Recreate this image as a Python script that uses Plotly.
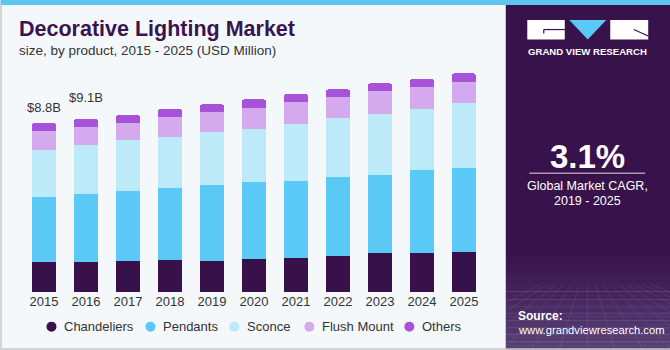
import plotly.graph_objects as go

# ---------------- data (USD Million) ----------------
years = ["2015", "2016", "2017", "2018", "2019", "2020", "2021", "2022", "2023", "2024", "2025"]
chandeliers = [1536, 1557, 1609, 1676, 1609, 1713, 1744, 1848, 2024, 2024, 2076]
pendants = [3410, 3560, 3664, 3737, 3960, 3996, 4048, 4121, 4079, 4323, 4391]
sconce = [2439, 2528, 2616, 2647, 2766, 2782, 2958, 3093, 3166, 3166, 3342]
flush_mount = [986, 950, 913, 1022, 1038, 1090, 1142, 1074, 1178, 1157, 1105]
others = [431, 400, 400, 431, 384, 436, 400, 400, 400, 415, 452]
series_names = ["Chandeliers", "Pendants", "Sconce", "Flush Mount", "Others"]
series_values = [chandeliers, pendants, sconce, flush_mount, others]
total_labels = {"2015": "$8.8B", "2016": "$9.1B"}

# ---------------- style ----------------
colors = ["#38114a", "#5bc9f5", "#bdeaf9", "#d4a9ed", "#a752d8"]
bg = "#f4f8fb"
panel = "#38124a"
FONT = "Liberation Sans"

W_FIG, H_FIG = 670, 350
L, R, T, B = 22.5, 185.3, 70, 57.7
PW = W_FIG - L - R
PH = H_FIG - T - B
YMAX = 11537


def px(x):
    return (x - L) / PW


def py(y):
    return (H_FIG - B - y) / PH


fig = go.Figure()
for name, vals, col in zip(series_names, series_values, colors):
    fig.add_trace(go.Bar(x=years, y=vals, name=name, marker=dict(color=col, line=dict(width=0)),
                         showlegend=False, hoverinfo="x+y+name"))

totals = [sum(v) for v in zip(*series_values)]
annotations = []
shifts = {"2015": 6, "2016": 12}
for i, (yr, tot) in enumerate(zip(years, totals)):
    if yr in total_labels:
        annotations.append(dict(x=i, y=tot, xref="x", yref="y", text=total_labels[yr],
                                showarrow=False, yanchor="bottom", yshift=shifts[yr],
                                font=dict(family=FONT, size=13, color="#333333")))

def txt(x, y, text, size, color, xanchor="left", bold=False):
    annotations.append(dict(x=px(x), y=py(y), xref="paper", yref="paper",
                            text=f"<b>{text}</b>" if bold else text, showarrow=False,
                            xanchor=xanchor, yanchor="middle",
                            font=dict(family=FONT, size=size, color=color)))

txt(16, 29, "Decorative Lighting Market", 21.5, "#3a1450", bold=True)
txt(16, 50, "size, by product, 2015 - 2025 (USD Million)", 13.5, "#333333")
txt(587.5, 51, "GRAND VIEW RESEARCH", 9.6, "#ffffff", xanchor="center", bold=True)
txt(587, 157, "3.1%", 33, "#ffffff", xanchor="center", bold=True)
txt(587, 186, "Global Market CAGR,", 12.5, "#ffffff", xanchor="center")
txt(587, 201, "2019 - 2025", 12.5, "#ffffff", xanchor="center")
txt(516, 316, "Source:", 12, "#ffffff", bold=True)
txt(516, 330, "www.grandviewresearch.com", 11.2, "#ffffff")

shapes = []

def rect(x0, y0, x1, y1, color, layer="below", opacity=1):
    shapes.append(dict(type="rect", xref="paper", yref="paper", x0=px(x0), x1=px(x1),
                       y0=py(y1), y1=py(y0), fillcolor=color, line=dict(width=0),
                       layer=layer, opacity=opacity))

def line(x0, y0, x1, y1, color, width=1, layer="below"):
    shapes.append(dict(type="line", xref="paper", yref="paper", x0=px(x0), x1=px(x1),
                       y0=py(y0), y1=py(y1), line=dict(color=color, width=width), layer=layer))

# custom legend (round markers)
legend_marker_x = [51, 150, 234, 309, 409]
for name, col, mx in zip(series_names, colors, legend_marker_x):
    shapes.append(dict(type="circle", xref="paper", yref="paper",
                       x0=px(mx - 5), x1=px(mx + 5), y0=py(332), y1=py(322),
                       fillcolor=col, line=dict(width=0), layer="above"))
    txt(mx + 10.5, 327, name, 13, "#333333")

# right panel
rect(505.5, 0, 670, 350, panel)
# bottom gradient of the panel
n = 24
for i in range(n):
    y0 = 250 + i * (100 / n)
    rect(505.5, y0, 670, y0 + 100 / n + 0.3, "#8e8fc4", opacity=0.02 + 0.36 * (i / (n - 1)) ** 1.3)
# faint perspective grid
for yy in [292, 300, 307, 314, 321, 328, 335, 342]:
    line(505.5, yy, 670, yy, "rgba(255,255,255,0.10)", 1)
for k in range(-6, 9):
    line(587 + k * 8, 285, 587 + k * 28, 350, "rgba(255,255,255,0.08)", 1)
# top blue strip and borders
rect(0, 0, 670, 5, "#5cc6ef")
line(0.5, 5, 0.5, 350, "#c8c8c8", 1.5)
line(0, 349.3, 670, 349.3, "#c8c8c8", 1.5)
# logo
rect(527, 20, 564.5, 39.5, "#ffffff")
rect(610, 20, 648, 39.5, "#ffffff")
shapes.append(dict(type="path", xref="paper", yref="paper",
                   path=f"M {px(569)} {py(20)} L {px(606)} {py(20)} L {px(587.5)} {py(39.5)} Z",
                   fillcolor="#5bc9f5", line=dict(width=0), layer="below"))
line(543.5, 29.5, 564.5, 29.5, panel, 1.2)
line(543.5, 29.5, 543.5, 33.5, panel, 1.2)
line(633.5, 29.5, 648, 36, panel, 1.2)
# CAGR divider
line(529, 173.3, 645, 173.3, "rgba(255,255,255,0.85)", 1)

fig.update_layout(
    width=W_FIG, height=H_FIG,
    margin=dict(l=L, r=R, t=T, b=B, autoexpand=False),
    paper_bgcolor=bg, plot_bgcolor=bg,
    barmode="stack", bargap=0.43, barcornerradius=3,
    xaxis=dict(type="category", categoryarray=years, categoryorder="array",
               range=[-0.5, len(years) - 0.5], showgrid=False, showline=False,
               zeroline=False, ticks="",
               tickfont=dict(family=FONT, size=13, color="#333333"), fixedrange=True),
    yaxis=dict(range=[0, YMAX], visible=False, fixedrange=True),
    annotations=annotations,
    shapes=shapes,
    showlegend=False,
)

fig.write_html("out.html")
